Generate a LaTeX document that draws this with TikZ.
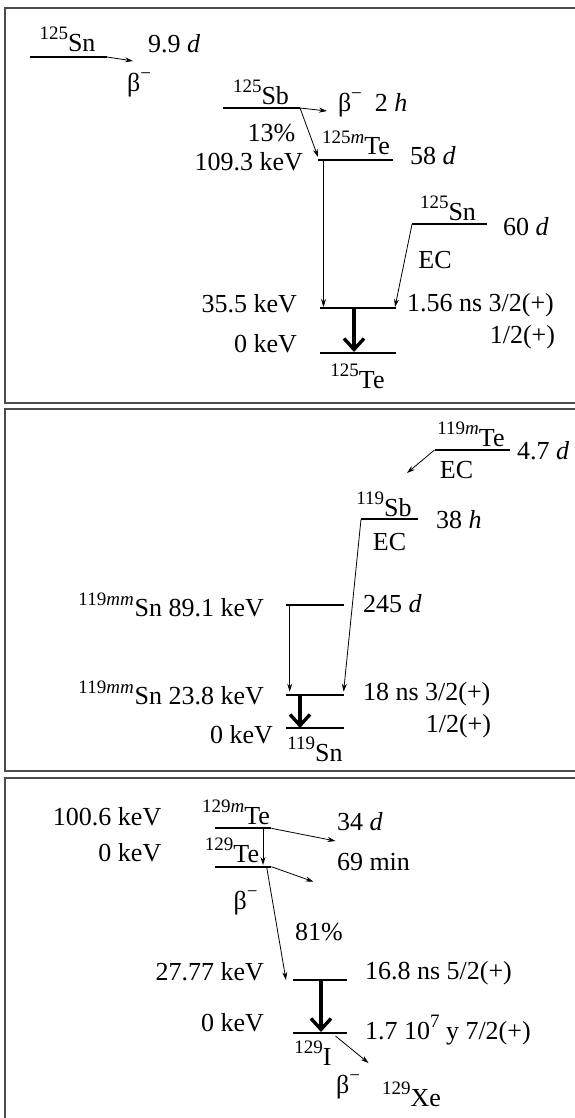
\documentclass[tikz,border=0pt]{standalone}
\usepackage{fontspec}
\setmainfont{Liberation Serif}
\usetikzlibrary{arrows.meta}
\newcommand\sups[1]{\raisebox{0.45em}{\fontsize{19}{20}\selectfont #1}}
\newcommand\betaminus{β\sups{−}}
\tikzset{
  frame/.style={draw=black!70, line width=1.4pt},
  level/.style={line width=1.7pt},
  arr/.style={line width=0.8pt, -{Stealth[length=8pt,width=5pt]}},
  bigarr/.style={line width=3.4pt, -{Straight Barb[length=11pt,width=20pt]}},
  lbl/.style={inner sep=0pt, outer sep=0pt},
  iso/.style={inner sep=0pt, outer sep=0pt, anchor=base}
}
\begin{document}
\begin{tikzpicture}[x=1pt,y=-1pt,font=\fontsize{26}{30}\selectfont]
\useasboundingbox (0,0) rectangle (575,1118);
% frames
\coordinate (f1a) at (585,8); \coordinate (f1b) at (5,8); \coordinate (f1c) at (5,403); \coordinate (f1d) at (585,403);
\draw[frame] (f1a) -- (f1b) -- (f1c) -- (f1d);
\coordinate (f2a) at (585,409); \coordinate (f2b) at (5,409); \coordinate (f2c) at (5,771); \coordinate (f2d) at (585,771);
\draw[frame] (f2a) -- (f2b) -- (f2c) -- (f2d);
\coordinate (f3a) at (585,778); \coordinate (f3b) at (5,778); \coordinate (f3c) at (5,1130);
\draw[frame] (f3a) -- (f3b) -- (f3c);

% ================= Panel 1 =================
\coordinate (sna1) at (30,57); \coordinate (sna2) at (107,57);
\draw[level] (sna1) -- (sna2);
\node[iso] (snalbl) at (67.5,51.7) {\sups{125}Sn};
\coordinate (snat) at (133,61);
\draw[arr] (sna2) -- (snat);
\node[lbl,anchor=west] (snahl) at (148,44) {9.9 \textit{d}};
\node[lbl] (snabeta) at (139,85) {\betaminus};

\coordinate (sb1) at (223,108); \coordinate (sb2) at (300,108);
\draw[level] (sb1) -- (sb2);
\node[iso] (sblbl) at (261,104.5) {\sups{125}Sb};
\coordinate (sbt) at (327,111);
\draw[arr] (sb2) -- (sbt);
\node[lbl,anchor=west] (sbhl) at (338,105) {\betaminus\ \ 2 \textit{h}};
\node[lbl] (sbpct) at (271.5,133) {13\%};
\node[lbl,anchor=east] (tmen) at (303,161.5) {109.3 keV};
\coordinate (tmt) at (318,157);
\draw[arr] (sb2) -- (tmt);

\coordinate (tm1) at (318,160); \coordinate (tm2) at (393,160);
\draw[level] (tm1) -- (tm2);
\node[iso] (tmlbl) at (356,155) {\sups{125\textit{m}}Te};
\node[lbl,anchor=west] (tmhl) at (410,156) {58 \textit{d}};
\coordinate (tmv) at (323.5,160); \coordinate (tmvt) at (323.5,307);
\draw[arr] (tmv) -- (tmvt);

\coordinate (snb1) at (412,224.3); \coordinate (snb2) at (487,224.3);
\draw[level] (snb1) -- (snb2);
\node[iso] (snblbl) at (448,220) {\sups{125}Sn};
\node[lbl,anchor=west] (snbhl) at (503,226.5) {60 \textit{d}};
\node[lbl] (snbec) at (435,260) {EC};
\coordinate (snbt) at (395,307);
\draw[arr] (snb1) -- (snbt);

\coordinate (ta1) at (320,308.3); \coordinate (ta2) at (396,308.3);
\draw[level] (ta1) -- (ta2);
\node[lbl,anchor=east] (taen) at (297,304) {35.5 keV};
\node[lbl,anchor=west] (tahl) at (407,305) {1.56 ns 3/2(+)};
\coordinate (tg1) at (320,352.7); \coordinate (tg2) at (396,352.7);
\draw[level] (tg1) -- (tg2);
\node[lbl,anchor=east] (tgsp) at (555,337) {1/2(+)};
\node[lbl,anchor=east] (tgen) at (297,344) {0 keV};
\node[iso] (tglbl) at (357.5,388) {\sups{125}Te};
\coordinate (tbs) at (354,309); \coordinate (tbe) at (354,352);
\draw[bigarr] (tbs) -- (tbe);

% ================= Panel 2 =================
\coordinate (te1) at (434.5,450); \coordinate (te2) at (509.7,450);
\draw[level] (te1) -- (te2);
\node[iso] (telbl) at (471,446) {\sups{119\textit{m}}Te};
\node[lbl,anchor=west] (tehl) at (517,451) {4.7 \textit{d}};
\node[lbl] (teec) at (456.5,470) {EC};
\coordinate (tet) at (407,473);
\draw[arr] (te1) -- (tet);

\coordinate (sc1) at (361,519.3); \coordinate (sc2) at (418,519.3);
\draw[level] (sc1) -- (sc2);
\node[iso] (sclbl) at (384,516) {\sups{119}Sb};
\node[lbl,anchor=west] (schl) at (436,520) {38 \textit{h}};
\node[lbl] (scec) at (389.5,541.7) {EC};

\coordinate (ua1) at (286,605); \coordinate (ua2) at (343.6,605);
\draw[level] (ua1) -- (ua2);
\node[lbl,anchor=east] (uaen) at (264,605) {\sups{119\textit{mm}}\kern1ptSn 89.1 keV};
\node[lbl,anchor=west] (uahl) at (363,603.3) {245 \textit{d}};
\coordinate (uav) at (289.7,605); \coordinate (uavt) at (289.7,691.7);
\draw[arr] (uav) -- (uavt);
\coordinate (sct) at (343.6,691.7);
\draw[arr] (sc1) -- (sct);

\coordinate (ub1) at (286,695); \coordinate (ub2) at (343.6,695);
\draw[level] (ub1) -- (ub2);
\node[lbl,anchor=east] (uben) at (264,693) {\sups{119\textit{mm}}\kern1ptSn 23.8 keV};
\node[lbl,anchor=west] (ubhl) at (363,694) {18 ns 3/2(+)};
\coordinate (ug1) at (286,728.3); \coordinate (ug2) at (343.6,728.3);
\draw[level] (ug1) -- (ug2);
\node[lbl,anchor=east] (ugsp) at (491,726) {1/2(+)};
\node[lbl,anchor=east] (ugen) at (273,735) {0 keV};
\node[iso] (uglbl) at (315,761) {\sups{119}Sn};
\coordinate (ubs) at (300,696); \coordinate (ube) at (300,728);
\draw[bigarr] (ubs) -- (ube);

% ================= Panel 3 =================
\coordinate (va1) at (214.5,828.3); \coordinate (va2) at (271.4,828.3);
\draw[level] (va1) -- (va2);
\node[iso] (valbl) at (236,824) {\sups{129\textit{m}}Te};
\node[lbl,anchor=east] (vaen) at (161.3,817) {100.6 keV};
\node[lbl,anchor=west] (vahl) at (337,822) {34 \textit{d}};
\coordinate (vat) at (335.5,841);
\draw[arr] (va2) -- (vat);
\coordinate (vav) at (263,828.3); \coordinate (vavt) at (263,865);
\draw[arr] (vav) -- (vavt);

\coordinate (vb1) at (214.5,866.7); \coordinate (vb2) at (271.4,866.7);
\draw[level] (vb1) -- (vb2);
\node[iso] (vblbl) at (232,862) {\sups{129}Te};
\node[lbl,anchor=east] (vben) at (161.3,853) {0 keV};
\node[lbl,anchor=west] (vbhl) at (337,862) {69 min};
\coordinate (vbt) at (313.5,881.7);
\draw[arr] (vb2) -- (vbt);
\node[lbl] (vbbeta) at (245.7,903) {\betaminus};
\coordinate (vbs) at (266.6,866.7); \coordinate (vbst) at (286,980);
\draw[arr] (vbs) -- (vbst);
\node[lbl] (vbpct) at (319,932) {81\%};

\coordinate (ia1) at (293.4,980); \coordinate (ia2) at (346.5,980);
\draw[level] (ia1) -- (ia2);
\node[lbl,anchor=east] (iaen) at (264,972) {27.77 keV};
\node[lbl,anchor=west] (iahl) at (365,973) {16.8 ns 5/2(+)};
\coordinate (ig1) at (293.4,1032.7); \coordinate (ig2) at (346.5,1032.7);
\draw[level] (ig1) -- (ig2);
\node[lbl,anchor=east] (igen) at (264,1023) {0 keV};
\node[lbl,anchor=west] (ighl) at (365,1030) {1.7 10\sups{7} y 7/2(+)};
\node[iso] (iglbl) at (313,1065) {\sups{129}I};
\coordinate (ibs) at (321,981); \coordinate (ibe) at (321,1032);
\draw[bigarr] (ibs) -- (ibe);
\coordinate (ixs) at (335.5,1036); \coordinate (ixt) at (368.5,1063);
\draw[arr] (ixs) -- (ixt);
\node[lbl] (ixbeta) at (348,1087) {\betaminus};
\node[iso] (ixlbl) at (411.6,1106) {\sups{129}Xe};
\end{tikzpicture}
\end{document}
